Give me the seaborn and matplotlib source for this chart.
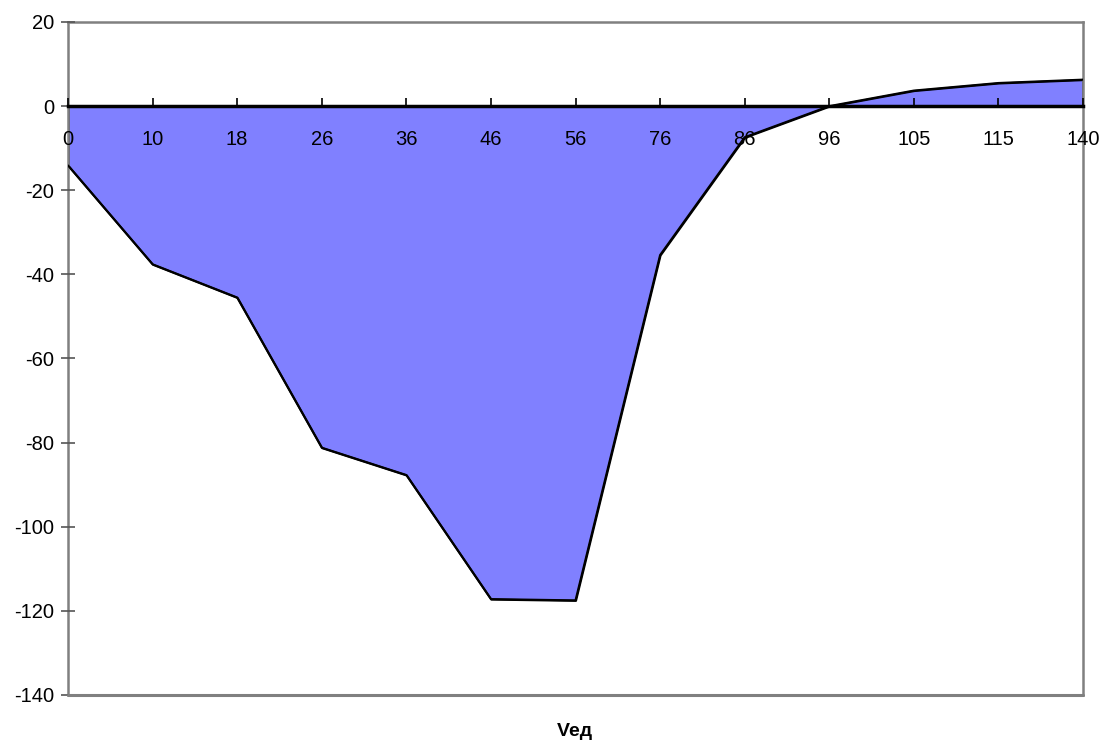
import pandas as pd
import matplotlib.pyplot as plt
import seaborn as sns

# Categories (Vед) and values
categories = ['0', '10', '18', '26', '36', '46', '56', '76', '86', '96', '105', '115', '140']
values = [-14.1, -37.6, -45.5, -81.2, -87.7, -117.2, -117.5, -35.4, -7.4, 0.0, 3.7, 5.5, 6.3]
y_ticks = [20, 0, -20, -40, -60, -80, -100, -120, -140]

sns.set_theme(style='white')
plt.rcParams['font.family'] = ['Liberation Sans', 'DejaVu Sans']
plt.rcParams['text.color'] = 'black'
plt.rcParams['xtick.color'] = 'black'
plt.rcParams['ytick.color'] = 'black'
plt.rcParams['axes.labelcolor'] = 'black'

df = pd.DataFrame({'pos': range(len(categories)), 'value': values})

fig = plt.figure(figsize=(11.03, 7.40), dpi=100)
ax = fig.add_axes([68 / 1103, 45 / 740, 1015 / 1103, 673 / 740])
ax.set_axisbelow(False)

# Area filled to zero, outlined in black
ax.fill_between(df['pos'], df['value'], 0, facecolor='#8080FF',
                edgecolor='black', linewidth=1.5, zorder=2)
sns.lineplot(data=df, x='pos', y='value', color='black', linewidth=1.5, ax=ax, zorder=3)

ax.set_xlim(0, len(categories) - 1)
ax.set_ylim(-140, 20)
ax.set_yticks(y_ticks)
ax.set_yticklabels([str(t) for t in y_ticks], fontsize=14.5)
ax.tick_params(axis='y', left=True, direction='inout', length=10, width=1.2,
               color='#555555', pad=5)

# Frame in gray
for side in ['left', 'right', 'top']:
    ax.spines[side].set_color('#808080')
    ax.spines[side].set_linewidth(1.8)
ax.axhline(-140, color='#808080', linewidth=2.2, clip_on=False, zorder=4)

# Category axis along the zero line
ax.spines['bottom'].set_position(('data', 0))
ax.spines['bottom'].set_color('black')
ax.spines['bottom'].set_linewidth(2.5)
ax.spines['bottom'].set_zorder(4)
ax.set_xticks(list(range(len(categories))))
ax.set_xticklabels(categories, fontsize=14.5)
ax.tick_params(axis='x', bottom=True, direction='in', length=6, width=1.2,
               color='black', pad=17)

ax.set_xlabel('')
ax.set_ylabel('')
fig.text(575 / 1103, 1 - 731 / 740, 'Vед', fontsize=14, fontweight='bold',
         ha='center', va='center')

fig.savefig('out.png', dpi=100)
plt.close(fig)
